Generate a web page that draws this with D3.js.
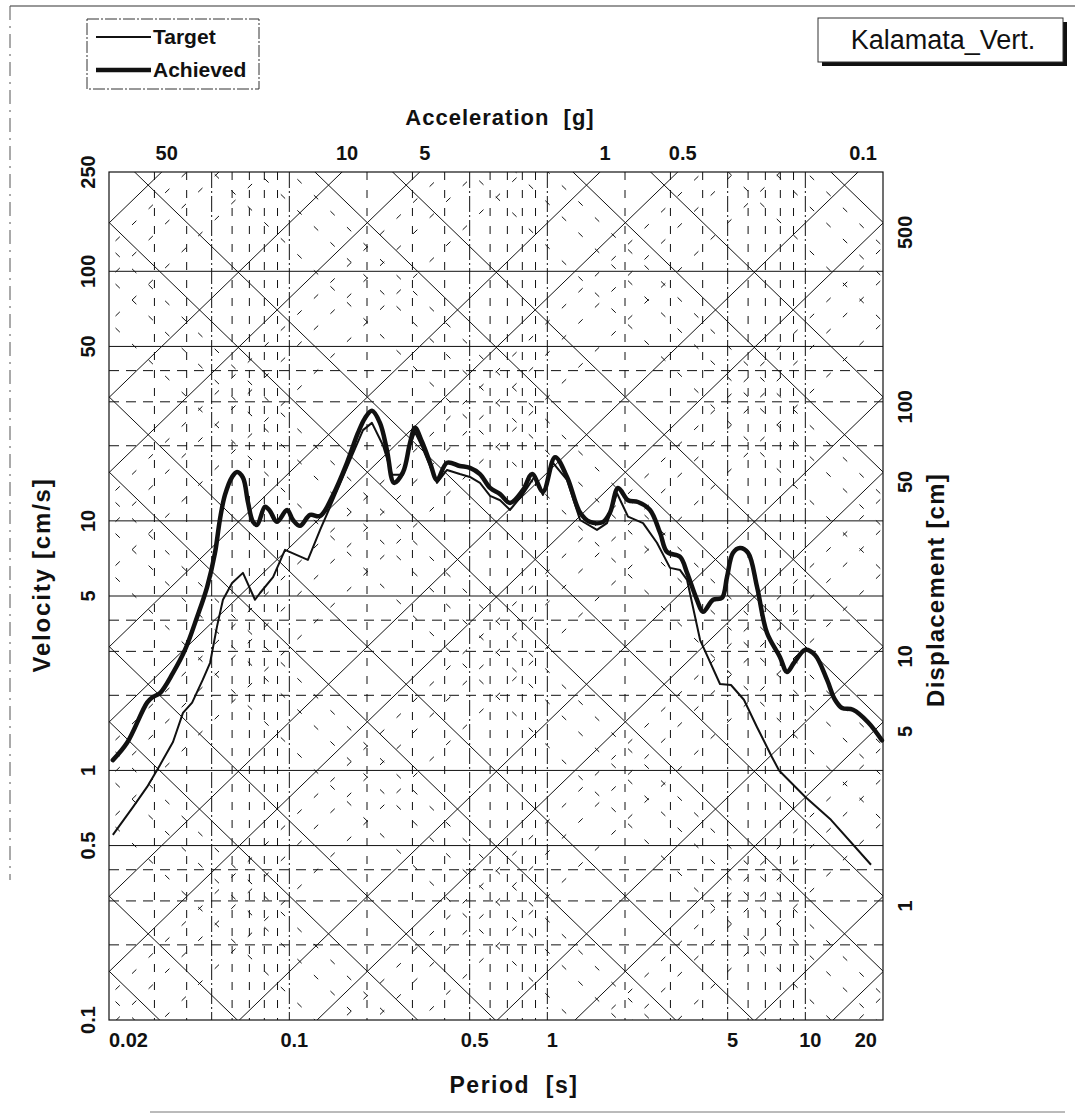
<!DOCTYPE html>
<html>
<head>
<meta charset="utf-8">
<script src="https://cdn.jsdelivr.net/npm/d3@7"></script>
<style>
  html, body { margin: 0; padding: 0; background: #fff; }
  svg { display: block; }
  text { font-family: "Liberation Sans", Arial, Helvetica, sans-serif; fill: #111; }
</style>
</head>
<body>
<svg id="chart" width="1078" height="1115"></svg>
<script>
// ---- data ----------------------------------------------------------------
const periodTicks   = [0.02, 0.1, 0.5, 1, 5, 10, 20];          // s
const velocityTicks = [0.1, 0.5, 1, 5, 10, 50, 100, 250];      // cm/s
const accelLabels   = [50, 10, 5, 1, 0.5, 0.1];                // g
const dispLabels    = [500, 100, 50, 10, 5, 1];                // cm

// major tripartite diagonals
const majorDisp  = [0.0005, 0.001, 0.005, 0.01, 0.05, 0.1, 0.5, 1, 5, 10, 50, 100, 500];
const majorAccel = [0.00005, 0.0001, 0.0005, 0.001, 0.005, 0.01, 0.05, 0.1, 0.5, 1, 5, 10, 50];

// grid lines
const vMajor = [0.05, 0.1, 0.5, 1, 5, 10];
const vMinor = [0.03, 0.04, 0.06, 0.07, 0.08, 0.09, 0.2, 0.3, 0.4, 0.6, 0.7, 0.8, 0.9, 2, 3, 4, 6, 7, 8, 9];
const hMajor = [0.5, 1, 5, 10, 50, 100];
const hMinor = [0.2, 0.3, 0.4, 2, 3, 4, 20, 30, 40];

// response spectra: period [s] and pseudo-velocity [cm/s]
const targetT = [0.0207, 0.0248, 0.0281, 0.0315, 0.0354, 0.0387, 0.042, 0.0462, 0.0493, 0.0524,
  0.0553, 0.06, 0.0661, 0.0736, 0.077, 0.0865, 0.0962, 0.118, 0.1316, 0.1477, 0.172, 0.193,
  0.209, 0.2306, 0.25, 0.276, 0.2935, 0.307, 0.327, 0.3735, 0.4085, 0.458, 0.501, 0.548, 0.6,
  0.656, 0.717, 0.805, 0.89, 0.962, 1.05, 1.192, 1.339, 1.557, 1.703, 1.862, 2.055, 2.35, 2.66,
  2.99, 3.27, 3.48, 3.91, 4.67, 5.15, 5.78, 6.5, 7.43, 7.91, 9.98, 12.57, 17.97];
const targetV = [0.552, 0.714, 0.859, 1.05, 1.30, 1.70, 1.87, 2.31, 2.70, 3.76,
  4.83, 5.64, 6.19, 4.83, 5.14, 5.95, 7.65, 6.98, 9.2, 12.1, 17.5, 23.1,
  24.7, 20.1, 15.3, 15.3, 20.0, 22.7, 19.8, 14.2, 16.0, 15.4, 15.0, 14.2, 12.6,
  12.1, 11.06, 12.8, 15.0, 12.7, 17.1, 14.6, 10.08, 9.2, 9.8, 12.9, 10.4, 9.8, 8.17,
  6.48, 6.35, 5.8, 3.33, 2.22, 2.20, 1.92, 1.49, 1.13, 1.00, 0.784, 0.634, 0.419];

const achievedT = [0.0207, 0.0235, 0.0281, 0.0296, 0.0315, 0.0354, 0.0394, 0.0439, 0.048, 0.0515,
  0.0538, 0.0563, 0.06, 0.0627, 0.0661, 0.0691, 0.0723, 0.075, 0.0805, 0.0841, 0.0895, 0.098,
  0.1033, 0.11, 0.1203, 0.1316, 0.1477, 0.1673, 0.1845, 0.1964, 0.209, 0.2245, 0.239, 0.2546,
  0.276, 0.2935, 0.307, 0.327, 0.351, 0.3735, 0.4085, 0.458, 0.501, 0.548, 0.6, 0.656, 0.717,
  0.805, 0.873, 0.962, 1.071, 1.192, 1.339, 1.463, 1.644, 1.75, 1.88, 2.055, 2.245, 2.5, 2.735,
  2.91, 3.27, 3.48, 3.80, 4.01, 4.39, 4.75, 4.97, 5.24, 5.58, 6.0, 6.5, 7.1, 7.97, 8.49, 9.04,
  9.98, 10.9, 12.13, 13.03, 13.87, 15.3, 17.5, 19.8];
const achievedV = [1.10, 1.29, 1.87, 1.97, 2.04, 2.46, 3.04, 4.12, 5.43, 7.44,
  10.1, 12.7, 15.0, 15.7, 14.9, 11.9, 9.91, 9.64, 11.4, 10.96, 9.91, 11.06,
  10.08, 9.55, 10.56, 10.46, 12.7, 17.1, 22.5, 25.8, 27.6, 24.7, 19.2, 14.2,
  15.7, 20.5, 23.6, 20.7, 17.1, 14.6, 17.1, 16.6, 16.3, 15.4, 13.55, 12.8, 11.8,
  13.3, 15.4, 13.1, 18.0, 15.0, 10.8, 9.9, 9.9, 10.8, 13.55, 12.1, 11.9, 11.06, 8.96,
  7.51, 7.17, 6.19, 4.83, 4.32, 4.83, 4.91, 5.95, 7.44, 7.79, 7.44, 5.43, 3.56, 2.85, 2.48, 2.70,
  3.04, 2.90, 2.31, 1.92, 1.78, 1.75, 1.56, 1.32];

// ---- layout ----------------------------------------------------------------
const X0 = 109, X1 = 883, Y0 = 172, Y1 = 1020;
const G = 981;                 // cm/s^2 per g
const TWO_PI = 2 * Math.PI;
const ink = "#111";

const svg = d3.select("#chart");
const x = d3.scaleLog().domain([0.02, 20]).range([X0, X1]);
const y = d3.scaleLog().domain([0.1, 250]).range([Y1, Y0]);

// pseudo-velocity along lines of constant displacement / acceleration
const vFromDisp  = (d, T) => TWO_PI * d / T;
const vFromAccel = (a, T) => a * G * T / TWO_PI;

svg.append("defs").append("clipPath").attr("id", "plotClip")
  .append("rect").attr("x", X0).attr("y", Y0).attr("width", X1 - X0).attr("height", Y1 - Y0);

// ---- page frame ------------------------------------------------------------
svg.append("line").attr("x1", 10).attr("x2", 1075).attr("y1", 6).attr("y2", 6)
  .attr("stroke", "#333").attr("stroke-width", 1.2);
svg.append("line").attr("x1", 10).attr("x2", 10).attr("y1", 6).attr("y2", 880)
  .attr("stroke", "#555").attr("stroke-width", 1).attr("stroke-dasharray", "14,6,2,6");
svg.append("line").attr("x1", 150).attr("x2", 1065).attr("y1", 1112).attr("y2", 1112)
  .attr("stroke", "#777").attr("stroke-width", 1);

const grid = svg.append("g").attr("clip-path", "url(#plotClip)");

// ---- rectangular grid --------------------------------------------------------
grid.selectAll("line.vmin").data(vMinor).join("line")
  .attr("x1", d => x(d)).attr("x2", d => x(d)).attr("y1", Y0).attr("y2", Y1)
  .attr("stroke", ink).attr("stroke-width", 1).attr("stroke-dasharray", "8,10");
grid.selectAll("line.vmaj").data(vMajor).join("line")
  .attr("x1", d => x(d)).attr("x2", d => x(d)).attr("y1", Y0).attr("y2", Y1)
  .attr("stroke", ink).attr("stroke-width", 1).attr("stroke-dasharray", "16,3,2,3");
grid.selectAll("line.hmin").data(hMinor).join("line")
  .attr("x1", X0).attr("x2", X1).attr("y1", d => y(d)).attr("y2", d => y(d))
  .attr("stroke", ink).attr("stroke-width", 1).attr("stroke-dasharray", "10,7");
grid.selectAll("line.hmaj").data(hMajor).join("line")
  .attr("x1", X0).attr("x2", X1).attr("y1", d => y(d)).attr("y2", d => y(d))
  .attr("stroke", ink).attr("stroke-width", 1);

// ---- diagonal grid ---------------------------------------------------------
const Ta = 0.002, Tb = 200;
const decades = d3.range(-6, 4);
const minorDisp = [], minorAccel = [];
decades.forEach(k => [2, 3, 4].forEach(m => {
  minorDisp.push(m * Math.pow(10, k));
  minorAccel.push(m * Math.pow(10, k));
}));

function diag(sel, values, fn, cls, dash) {
  sel.selectAll("line." + cls).data(values).join("line")
    .attr("class", cls)
    .attr("x1", x(Ta)).attr("y1", d => y(fn(d, Ta)))
    .attr("x2", x(Tb)).attr("y2", d => y(fn(d, Tb)))
    .attr("stroke", ink).attr("stroke-width", 1)
    .attr("stroke-dasharray", dash);
}
diag(grid, minorDisp, vFromDisp, "dmin", "6,17");
diag(grid, minorAccel, vFromAccel, "amin", "6,17");
diag(grid, majorDisp, vFromDisp, "dmaj", null);
diag(grid, majorAccel, vFromAccel, "amaj", null);

// plot border
svg.append("rect").attr("x", X0).attr("y", Y0).attr("width", X1 - X0).attr("height", Y1 - Y0)
  .attr("fill", "none").attr("stroke", ink).attr("stroke-width", 1.2);

// ---- spectra ----------------------------------------------------------------
const target   = targetT.map((t, i) => [t, targetV[i]]);
const achieved = achievedT.map((t, i) => [t, achievedV[i]]);

svg.append("path").datum(target)
  .attr("d", d3.line().x(d => x(d[0])).y(d => y(d[1])))
  .attr("fill", "none").attr("stroke", ink).attr("stroke-width", 2)
  .attr("stroke-linejoin", "round");
svg.append("path").datum(achieved)
  .attr("d", d3.line().x(d => x(d[0])).y(d => y(d[1])).curve(d3.curveCatmullRom.alpha(0.5)))
  .attr("fill", "none").attr("stroke", ink).attr("stroke-width", 4.5)
  .attr("stroke-linejoin", "round").attr("stroke-linecap", "round");

// ---- tick labels ------------------------------------------------------------
const tickFont = 20;
svg.selectAll("text.xt").data(periodTicks).join("text")
  .attr("class", "xt")
  .attr("x", (d, i) => i === 0 ? X0 : i === periodTicks.length - 1 ? X1 - 6 : x(d) + 5)
  .attr("y", 1047)
  .attr("text-anchor", (d, i) => i === 0 ? "start" : i === periodTicks.length - 1 ? "end" : "middle")
  .attr("font-size", tickFont).attr("font-weight", "bold")
  .text(d => d);

svg.selectAll("text.yt").data(velocityTicks).join("text")
  .attr("class", "yt")
  .attr("transform", d => `translate(95,${y(d)}) rotate(-90)`)
  .attr("text-anchor", "middle")
  .attr("font-size", tickFont).attr("font-weight", "bold")
  .text(d => d);

svg.selectAll("text.at").data(accelLabels).join("text")
  .attr("class", "at")
  .attr("x", d => x(TWO_PI * 250 / (d * G)) + 5)
  .attr("y", 160)
  .attr("text-anchor", "middle")
  .attr("font-size", tickFont).attr("font-weight", "bold")
  .text(d => d);

svg.selectAll("text.dt").data(dispLabels).join("text")
  .attr("class", "dt")
  .attr("transform", d => `translate(912,${y(vFromDisp(d, 20)) + 10}) rotate(-90)`)
  .attr("text-anchor", "middle")
  .attr("font-size", tickFont).attr("font-weight", "bold")
  .text(d => d);

// ---- axis titles ------------------------------------------------------------
svg.append("text").attr("x", 500).attr("y", 125).attr("text-anchor", "middle")
  .attr("font-size", 22).attr("font-weight", "bold").attr("letter-spacing", 1)
  .attr("xml:space", "preserve").text("Acceleration  [g]");
svg.append("text").attr("x", 514).attr("y", 1093).attr("text-anchor", "middle")
  .attr("font-size", 23).attr("font-weight", "bold").attr("letter-spacing", 1.5)
  .attr("xml:space", "preserve").text("Period  [s]");
svg.append("text").attr("transform", "translate(50,575) rotate(-90)").attr("text-anchor", "middle")
  .attr("font-size", 24).attr("font-weight", "bold").attr("letter-spacing", 1.8)
  .text("Velocity [cm/s]");
svg.append("text").attr("transform", "translate(944,590) rotate(-90)").attr("text-anchor", "middle")
  .attr("font-size", 24).attr("font-weight", "bold").attr("letter-spacing", 1.2)
  .text("Displacement [cm]");

// ---- legend -----------------------------------------------------------------
const legend = svg.append("g");
legend.append("rect").attr("x", 87).attr("y", 19).attr("width", 172).attr("height", 70)
  .attr("fill", "#fff").attr("stroke", "#333").attr("stroke-width", 1)
  .attr("stroke-dasharray", "12,2,2,2");
const legendItems = [
  { name: "Target", width: 2.2, y: 37 },
  { name: "Achieved", width: 4.5, y: 70 }
];
legendItems.forEach(it => {
  legend.append("line").attr("x1", 96).attr("x2", 151).attr("y1", it.y).attr("y2", it.y)
    .attr("stroke", ink).attr("stroke-width", it.width);
  legend.append("text").attr("x", 153).attr("y", it.y + 7)
    .attr("font-size", 21).attr("font-weight", "bold").text(it.name);
});

// ---- record name box ---------------------------------------------------------
const tag = svg.append("g");
tag.append("rect").attr("x", 822).attr("y", 22).attr("width", 245).attr("height", 44)
  .attr("fill", "#111");
tag.append("rect").attr("x", 818).attr("y", 18).attr("width", 245).attr("height", 44)
  .attr("fill", "#fff").attr("stroke", "#333").attr("stroke-width", 1);
tag.append("text").attr("x", 943).attr("y", 49).attr("text-anchor", "middle")
  .attr("font-size", 27).text("Kalamata_Vert.");
</script>
</body>
</html>
